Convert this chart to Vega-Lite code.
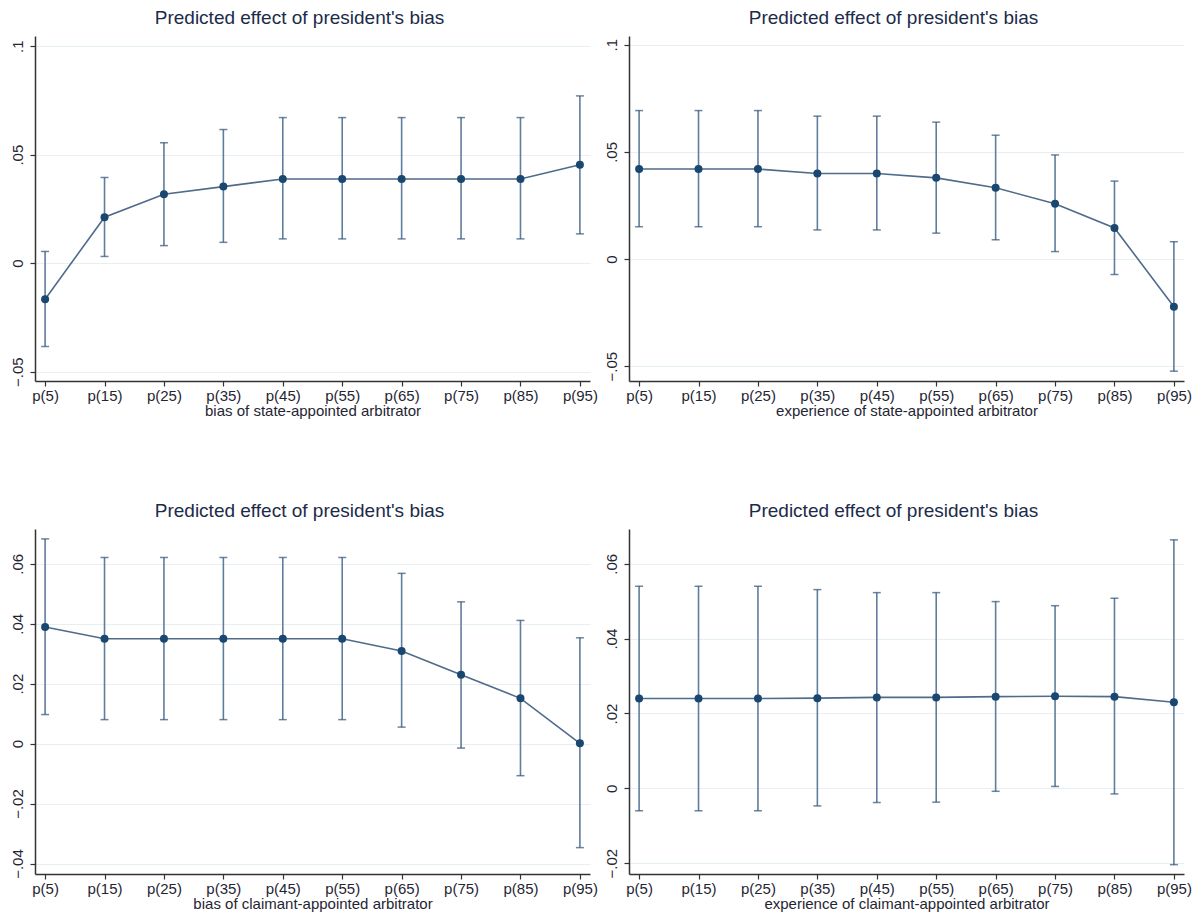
{
  "$schema": "https://vega.github.io/schema/vega-lite/v6.json",
  "background": "white",
  "padding": {"left": 10, "top": 9, "right": 6, "bottom": 2},
  "data": {"values": [
    {"panel": 1, "pct": "p(5)", "est": -0.0166, "lo": -0.0384, "hi": 0.0054},
    {"panel": 1, "pct": "p(15)", "est": 0.0212, "lo": 0.0031, "hi": 0.0395},
    {"panel": 1, "pct": "p(25)", "est": 0.0318, "lo": 0.0081, "hi": 0.0555},
    {"panel": 1, "pct": "p(35)", "est": 0.0353, "lo": 0.0096, "hi": 0.0616},
    {"panel": 1, "pct": "p(45)", "est": 0.0388, "lo": 0.0112, "hi": 0.0671},
    {"panel": 1, "pct": "p(55)", "est": 0.0388, "lo": 0.0112, "hi": 0.0671},
    {"panel": 1, "pct": "p(65)", "est": 0.0388, "lo": 0.0112, "hi": 0.0671},
    {"panel": 1, "pct": "p(75)", "est": 0.0388, "lo": 0.0112, "hi": 0.0671},
    {"panel": 1, "pct": "p(85)", "est": 0.0388, "lo": 0.0112, "hi": 0.0671},
    {"panel": 1, "pct": "p(95)", "est": 0.0454, "lo": 0.0135, "hi": 0.0771},
    {"panel": 2, "pct": "p(5)", "est": 0.0420, "lo": 0.0151, "hi": 0.0693},
    {"panel": 2, "pct": "p(15)", "est": 0.0420, "lo": 0.0151, "hi": 0.0693},
    {"panel": 2, "pct": "p(25)", "est": 0.0420, "lo": 0.0151, "hi": 0.0693},
    {"panel": 2, "pct": "p(35)", "est": 0.0399, "lo": 0.0136, "hi": 0.0667},
    {"panel": 2, "pct": "p(45)", "est": 0.0399, "lo": 0.0136, "hi": 0.0667},
    {"panel": 2, "pct": "p(55)", "est": 0.0379, "lo": 0.0121, "hi": 0.0639},
    {"panel": 2, "pct": "p(65)", "est": 0.0333, "lo": 0.0090, "hi": 0.0578},
    {"panel": 2, "pct": "p(75)", "est": 0.0258, "lo": 0.0035, "hi": 0.0486},
    {"panel": 2, "pct": "p(85)", "est": 0.0145, "lo": -0.0072, "hi": 0.0364},
    {"panel": 2, "pct": "p(95)", "est": -0.0222, "lo": -0.0523, "hi": 0.0081},
    {"panel": 3, "pct": "p(5)", "est": 0.0389, "lo": 0.0097, "hi": 0.0683},
    {"panel": 3, "pct": "p(15)", "est": 0.0350, "lo": 0.0080, "hi": 0.0621},
    {"panel": 3, "pct": "p(25)", "est": 0.0350, "lo": 0.0080, "hi": 0.0621},
    {"panel": 3, "pct": "p(35)", "est": 0.0350, "lo": 0.0080, "hi": 0.0621},
    {"panel": 3, "pct": "p(45)", "est": 0.0350, "lo": 0.0080, "hi": 0.0621},
    {"panel": 3, "pct": "p(55)", "est": 0.0350, "lo": 0.0080, "hi": 0.0621},
    {"panel": 3, "pct": "p(65)", "est": 0.0309, "lo": 0.0055, "hi": 0.0568},
    {"panel": 3, "pct": "p(75)", "est": 0.0230, "lo": -0.0015, "hi": 0.0473},
    {"panel": 3, "pct": "p(85)", "est": 0.0151, "lo": -0.0107, "hi": 0.0411},
    {"panel": 3, "pct": "p(95)", "est": 0.0001, "lo": -0.0347, "hi": 0.0353},
    {"panel": 4, "pct": "p(5)", "est": 0.0240, "lo": -0.0060, "hi": 0.0540},
    {"panel": 4, "pct": "p(15)", "est": 0.0240, "lo": -0.0060, "hi": 0.0540},
    {"panel": 4, "pct": "p(25)", "est": 0.0240, "lo": -0.0060, "hi": 0.0540},
    {"panel": 4, "pct": "p(35)", "est": 0.0241, "lo": -0.0047, "hi": 0.0531},
    {"panel": 4, "pct": "p(45)", "est": 0.0243, "lo": -0.0038, "hi": 0.0523},
    {"panel": 4, "pct": "p(55)", "est": 0.0243, "lo": -0.0037, "hi": 0.0523},
    {"panel": 4, "pct": "p(65)", "est": 0.0245, "lo": -0.0008, "hi": 0.0499},
    {"panel": 4, "pct": "p(75)", "est": 0.0246, "lo": 0.0005, "hi": 0.0488},
    {"panel": 4, "pct": "p(85)", "est": 0.0245, "lo": -0.0015, "hi": 0.0508},
    {"panel": 4, "pct": "p(95)", "est": 0.0230, "lo": -0.0204, "hi": 0.0664}
  ]},
  "columns": 2,
  "spacing": {"column": 6, "row": 84},
  "concat": [
    {
      "width": 555, "height": 345,
      "title": "Predicted effect of president's bias",
      "transform": [{"filter": "datum.panel == 1"}],
      "encoding": {"x": {"field": "pct", "type": "ordinal", "sort": null, "scale": {"type": "point", "padding": 0.17}, "axis": {"title": "bias of state-appointed arbitrator"}}},
      "layer": [
        {"mark": {"type": "rule", "color": "#5f7d9c", "strokeWidth": 1.6}, "encoding": {"y": {"field": "lo", "type": "quantitative", "scale": {"domain": [-0.0543, 0.1047], "nice": false, "zero": false}, "axis": {"title": null, "values": [-0.05, 0, 0.05, 0.1]}}, "y2": {"field": "hi"}}},
        {"mark": {"type": "tick", "color": "#2f5377", "size": 8, "thickness": 1.5}, "encoding": {"y": {"field": "lo", "type": "quantitative"}}},
        {"mark": {"type": "tick", "color": "#2f5377", "size": 8, "thickness": 1.5}, "encoding": {"y": {"field": "hi", "type": "quantitative"}}},
        {"mark": {"type": "line", "color": "#4f6b8a", "strokeWidth": 1.6}, "encoding": {"y": {"field": "est", "type": "quantitative"}}},
        {"mark": {"type": "point", "filled": true, "color": "#1a476f", "opacity": 1, "size": 64}, "encoding": {"y": {"field": "est", "type": "quantitative"}}}
      ]
    },
    {
      "width": 555, "height": 345,
      "title": "Predicted effect of president's bias",
      "transform": [{"filter": "datum.panel == 2"}],
      "encoding": {"x": {"field": "pct", "type": "ordinal", "sort": null, "scale": {"type": "point", "padding": 0.17}, "axis": {"title": "experience of state-appointed arbitrator"}}},
      "layer": [
        {"mark": {"type": "rule", "color": "#5f7d9c", "strokeWidth": 1.6}, "encoding": {"y": {"field": "lo", "type": "quantitative", "scale": {"domain": [-0.0569, 0.1041], "nice": false, "zero": false}, "axis": {"title": null, "values": [-0.05, 0, 0.05, 0.1]}}, "y2": {"field": "hi"}}},
        {"mark": {"type": "tick", "color": "#2f5377", "size": 8, "thickness": 1.5}, "encoding": {"y": {"field": "lo", "type": "quantitative"}}},
        {"mark": {"type": "tick", "color": "#2f5377", "size": 8, "thickness": 1.5}, "encoding": {"y": {"field": "hi", "type": "quantitative"}}},
        {"mark": {"type": "line", "color": "#4f6b8a", "strokeWidth": 1.6}, "encoding": {"y": {"field": "est", "type": "quantitative"}}},
        {"mark": {"type": "point", "filled": true, "color": "#1a476f", "opacity": 1, "size": 64}, "encoding": {"y": {"field": "est", "type": "quantitative"}}}
      ]
    },
    {
      "width": 555, "height": 345,
      "title": "Predicted effect of president's bias",
      "transform": [{"filter": "datum.panel == 3"}],
      "encoding": {"x": {"field": "pct", "type": "ordinal", "sort": null, "scale": {"type": "point", "padding": 0.17}, "axis": {"title": "bias of claimant-appointed arbitrator"}}},
      "layer": [
        {"mark": {"type": "rule", "color": "#5f7d9c", "strokeWidth": 1.6}, "encoding": {"y": {"field": "lo", "type": "quantitative", "scale": {"domain": [-0.0435, 0.0716], "nice": false, "zero": false}, "axis": {"title": null, "values": [-0.04, -0.02, 0, 0.02, 0.04, 0.06]}}, "y2": {"field": "hi"}}},
        {"mark": {"type": "tick", "color": "#2f5377", "size": 8, "thickness": 1.5}, "encoding": {"y": {"field": "lo", "type": "quantitative"}}},
        {"mark": {"type": "tick", "color": "#2f5377", "size": 8, "thickness": 1.5}, "encoding": {"y": {"field": "hi", "type": "quantitative"}}},
        {"mark": {"type": "line", "color": "#4f6b8a", "strokeWidth": 1.6}, "encoding": {"y": {"field": "est", "type": "quantitative"}}},
        {"mark": {"type": "point", "filled": true, "color": "#1a476f", "opacity": 1, "size": 64}, "encoding": {"y": {"field": "est", "type": "quantitative"}}}
      ]
    },
    {
      "width": 555, "height": 345,
      "title": "Predicted effect of president's bias",
      "transform": [{"filter": "datum.panel == 4"}],
      "encoding": {"x": {"field": "pct", "type": "ordinal", "sort": null, "scale": {"type": "point", "padding": 0.17}, "axis": {"title": "experience of claimant-appointed arbitrator"}}},
      "layer": [
        {"mark": {"type": "rule", "color": "#5f7d9c", "strokeWidth": 1.6}, "encoding": {"y": {"field": "lo", "type": "quantitative", "scale": {"domain": [-0.0229, 0.0693], "nice": false, "zero": false}, "axis": {"title": null, "values": [-0.02, 0, 0.02, 0.04, 0.06]}}, "y2": {"field": "hi"}}},
        {"mark": {"type": "tick", "color": "#2f5377", "size": 8, "thickness": 1.5}, "encoding": {"y": {"field": "lo", "type": "quantitative"}}},
        {"mark": {"type": "tick", "color": "#2f5377", "size": 8, "thickness": 1.5}, "encoding": {"y": {"field": "hi", "type": "quantitative"}}},
        {"mark": {"type": "line", "color": "#4f6b8a", "strokeWidth": 1.6}, "encoding": {"y": {"field": "est", "type": "quantitative"}}},
        {"mark": {"type": "point", "filled": true, "color": "#1a476f", "opacity": 1, "size": 64}, "encoding": {"y": {"field": "est", "type": "quantitative"}}}
      ]
    }
  ],
  "config": {
    "font": "Liberation Sans",
    "view": {"stroke": null},
    "title": {"fontSize": 19, "fontWeight": "normal", "color": "#1c2b4a", "font": "Liberation Sans", "offset": 8, "dx": -13},
    "axis": {"labelFont": "Liberation Sans", "titleFont": "Liberation Sans", "labelFontSize": 15, "titleFontSize": 15, "labelColor": "#1f2633", "titleColor": "#1f2633", "titleFontWeight": "normal", "domainColor": "#333333", "domainWidth": 1.5, "tickColor": "#333333", "tickSize": 5, "tickWidth": 1.2},
    "axisX": {"grid": false, "labelAngle": 0, "labelPadding": 2, "titlePadding": 0},
    "axisY": {"grid": true, "gridColor": "#e6eff2", "gridWidth": 1, "labelAngle": -90, "labelAlign": "center", "labelBaseline": "bottom", "labelPadding": 5, "labelExpr": "replace(format(datum.value, '.2~f'), '0.', '.')"}
  }
}
